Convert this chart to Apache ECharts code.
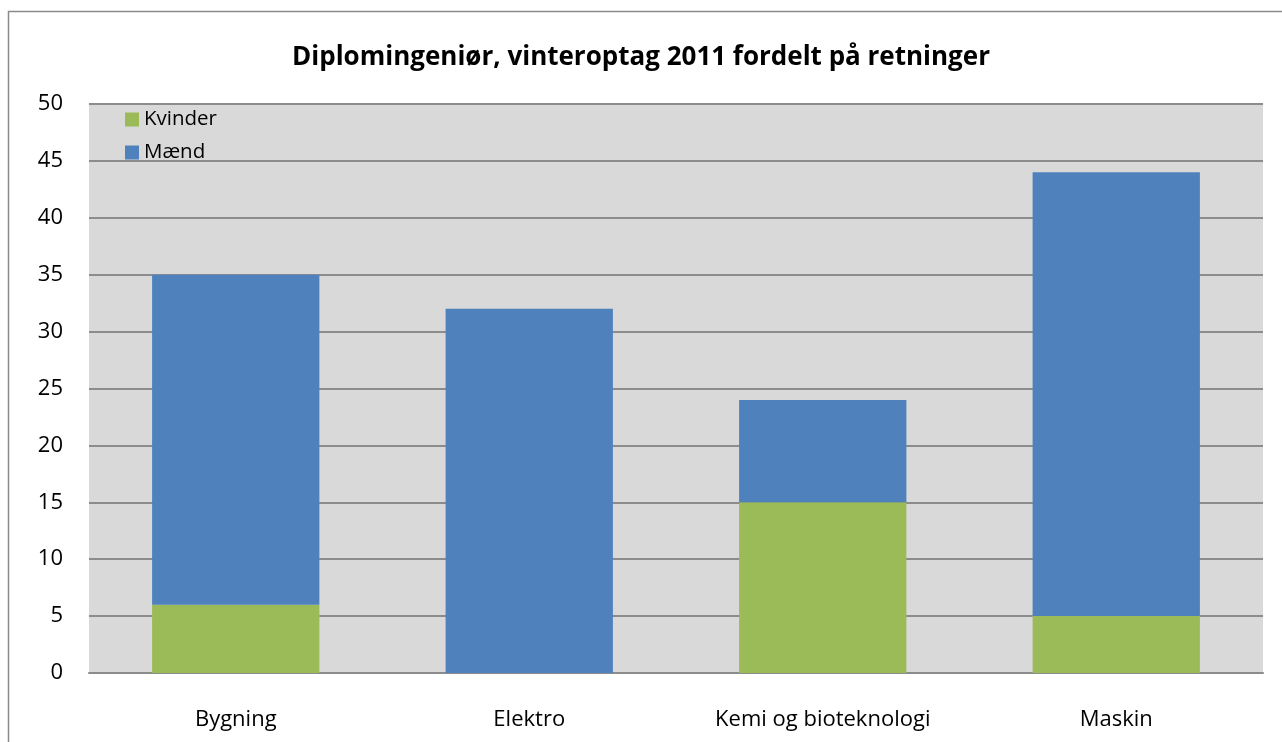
<!DOCTYPE html>
<html>
<head>
<meta charset="utf-8">
<script src="https://cdn.jsdelivr.net/npm/echarts@6/dist/echarts.min.js"></script>
<style>
  html, body { margin: 0; padding: 0; background: #fff; }
  #main { width: 1282px; height: 742px; }
</style>
</head>
<body>
<div id="main"></div>
<script>
var categories = ['Bygning', 'Elektro', 'Kemi og bioteknologi', 'Maskin'];
var kvinder = [6, 0, 15, 5];
var maend = [29, 32, 9, 39];

var chart = echarts.init(document.getElementById('main'));
var font = '"Open Sans", "Liberation Sans", sans-serif';

chart.setOption({
  animation: false,
  textStyle: { fontFamily: font },
  graphic: [{
    type: 'rect',
    shape: { x: 8.5, y: 11.5, width: 1300, height: 800 },
    style: { fill: 'none', stroke: '#8a8a8a', lineWidth: 1.5 },
    z: -10
  }],
  title: {
    text: 'Diplomingeniør, vinteroptag 2011 fordelt på retninger',
    left: 'center',
    top: 40,
    textStyle: { fontSize: 26, fontWeight: 'bold', color: '#000', fontFamily: font }
  },
  legend: {
    orient: 'vertical',
    left: 120,
    top: 104,
    itemWidth: 14,
    itemHeight: 14,
    itemGap: 12,
    icon: 'rect',
    textStyle: { fontSize: 20.5, color: '#000', fontFamily: font },
    data: ['Kvinder', 'Mænd']
  },
  grid: {
    left: 89,
    right: 19,
    top: 104,
    bottom: 69,
    show: true,
    backgroundColor: '#d9d9d9',
    borderWidth: 0
  },
  xAxis: {
    type: 'category',
    data: categories,
    axisTick: { show: false },
    axisLine: { lineStyle: { color: '#8c8c8c', width: 2 } },
    axisLabel: { fontSize: 22, color: '#000', margin: 36, fontFamily: font }
  },
  yAxis: {
    type: 'value',
    min: 0,
    max: 50,
    interval: 5,
    axisLine: { show: false },
    axisTick: { show: false },
    splitLine: { lineStyle: { color: '#8c8c8c', width: 2 } },
    axisLabel: { fontSize: 22, color: '#000', margin: 26, fontFamily: font }
  },
  series: [{
    name: 'Kvinder',
    type: 'bar',
    stack: 'total',
    barWidth: '57%',
    itemStyle: { color: '#9bbb59' },
    data: kvinder
  }, {
    name: 'Mænd',
    type: 'bar',
    stack: 'total',
    barWidth: '57%',
    itemStyle: { color: '#4f81bd' },
    data: maend
  }]
});
</script>
</body>
</html>
